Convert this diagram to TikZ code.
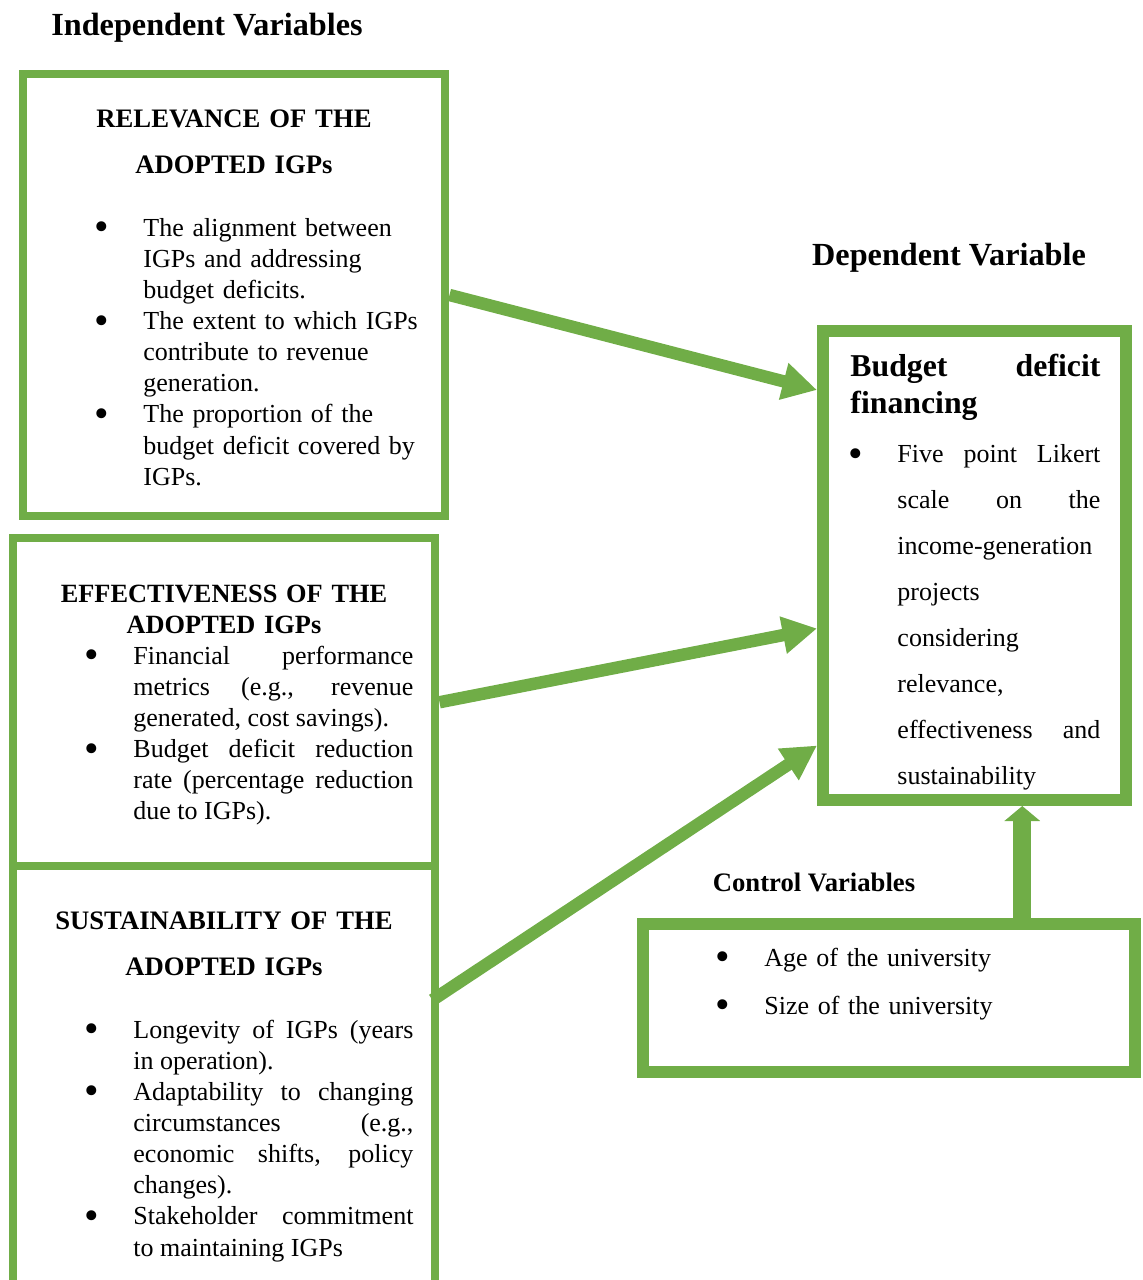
\documentclass[tikz,border=0pt]{standalone}
\usepackage{fontspec}
\setmainfont{Liberation Serif}
\usepackage{graphicx}
\usepackage{tikz}
\usetikzlibrary{arrows.meta, positioning, calc}
\definecolor{igpgreen}{RGB}{112,173,71}
\newlength\bind
\setlength\bind{21.15pt}
\newcommand\bmark{\hskip2.25pt\makebox[0pt]{\raisebox{-2pt}{\scalebox{1.6}{\textbullet}}}}
\newcommand\blt[1]{\hangindent=\bind\hangafter=1\noindent\strut\hbox to\bind{\bmark\hfil}#1\par}
\hbadness=10000
\hyphenpenalty=10000
\exhyphenpenalty=10000
\tikzset{
  frame/.style={rectangle, draw=igpgreen, line width=3.6pt, minimum width=190.1pt},
  bigframe/.style={rectangle, draw=igpgreen, line width=5.4pt},
  hdr/.style={inner sep=0pt, anchor=north, align=center, text width=190pt},
  title/.style={inner sep=0pt, anchor=base, font=\fontsize{14.5}{16}\selectfont\bfseries},
  lst/.style={inner sep=0pt, anchor=north west, text width=147.15pt,
              font=\fontsize{11.7}{14}\selectfont},
  link/.style={igpgreen, line width=5.6pt, -{Triangle[length=15.5pt, width=16pt]}},
  uplink/.style={igpgreen, line width=8.1pt, -{Triangle[length=6.75pt, width=15.75pt]}},
}
\begin{document}
\begin{tikzpicture}[x=0.45pt, y=-0.45pt]
  \useasboundingbox (0,0) rectangle (1142,1280);

  % frames
  \node[frame, minimum height=198.9pt] (rel) at (234.25,295) {};
  \node[frame, minimum height=147.4pt] (eff) at (224.25,702.25) {};
  \node[frame, minimum height=195.3pt] (sus) at (224.25,1083) {};
  \node[bigframe, minimum width=136.35pt, minimum height=211.05pt] (dep) at (974.5,565.5) {};
  \node[bigframe, minimum width=221.6pt, minimum height=66.4pt] (ctrl) at (889.25,997.75) {};

  % titles
  \node[title] (indepT) at (207,36) {Independent Variables};
  \node[title] (depT) at (949,266) {Dependent Variable};
  \node[title, font=\fontsize{12}{14}\selectfont\bfseries] (ctrlT) at (814,891) {Control Variables};

  % independent variables
  \node[hdr, font=\fontsize{12}{20.7}\selectfont\bfseries] (relH) at (234,95)
    {\strut RELEVANCE OF THE\\ ADOPTED IGPs};
  \node[lst, align=left] (relL) at (96,214)
    {\blt{The alignment between\newline IGPs and addressing\newline budget deficits.}%
     \blt{The extent to which IGPs\newline contribute to revenue\newline generation.}%
     \blt{The proportion of the\newline budget deficit covered by\newline IGPs.}};

  \node[hdr, font=\fontsize{11.85}{13.95}\selectfont\bfseries] (effH) at (224,580)
    {\strut EFFECTIVENESS OF THE\\ ADOPTED IGPs};
  \node[lst, align=justify] (effL) at (86,642)
    {\blt{Financial performance \linebreak metrics (e.g., revenue \linebreak generated, cost savings).}%
     \blt{Budget deficit reduction \linebreak rate (percentage reduction \linebreak due to IGPs).}};

  \node[hdr, font=\fontsize{12}{20.7}\selectfont\bfseries] (susH) at (224,897)
    {\strut SUSTAINABILITY OF THE\\ ADOPTED IGPs};
  \node[lst, align=justify] (susL) at (86,1016)
    {\blt{Longevity of IGPs (years \linebreak in operation).}%
     \blt{Adaptability to changing \linebreak circumstances (e.g., \linebreak economic shifts, policy \linebreak changes).}%
     \blt{Stakeholder commitment \linebreak to maintaining IGPs}};

  % dependent variable
  \node[lst, align=justify, text width=112.5pt, font=\fontsize{14.3}{16.65}\selectfont\bfseries] (depH) at (850,350)
    {\strut Budget deficit \linebreak financing};
  \node[lst, align=justify, text width=112.5pt, font=\fontsize{11.7}{20.7}\selectfont] (depL) at (850,430)
    {\blt{Five point Likert \linebreak scale on the \linebreak income-generation \linebreak projects \linebreak considering \linebreak relevance, \linebreak effectiveness and \linebreak sustainability}};

  % control variables
  \node[lst, align=left, text width=160pt, font=\fontsize{11.7}{21.6}\selectfont] (ctrlL) at (717,932)
    {\blt{Age of the university}%
     \blt{Size of the university}};

  % links
  \draw[link] (rel.east) -- ([shift={(0,-175.5)}]dep.west);
  \draw[link] (eff.east) -- ([shift={(0,63)}]dep.west);
  \draw[link] ([shift={(-7,-83)}]sus.east) -- ([shift={(0,180)}]dep.west);
  \coordinate (ctrlTop) at ([shift={(133,0)}]ctrl.north);
  \draw[uplink] (ctrlTop) -- (ctrlTop |- dep.south);
\end{tikzpicture}
\end{document}
